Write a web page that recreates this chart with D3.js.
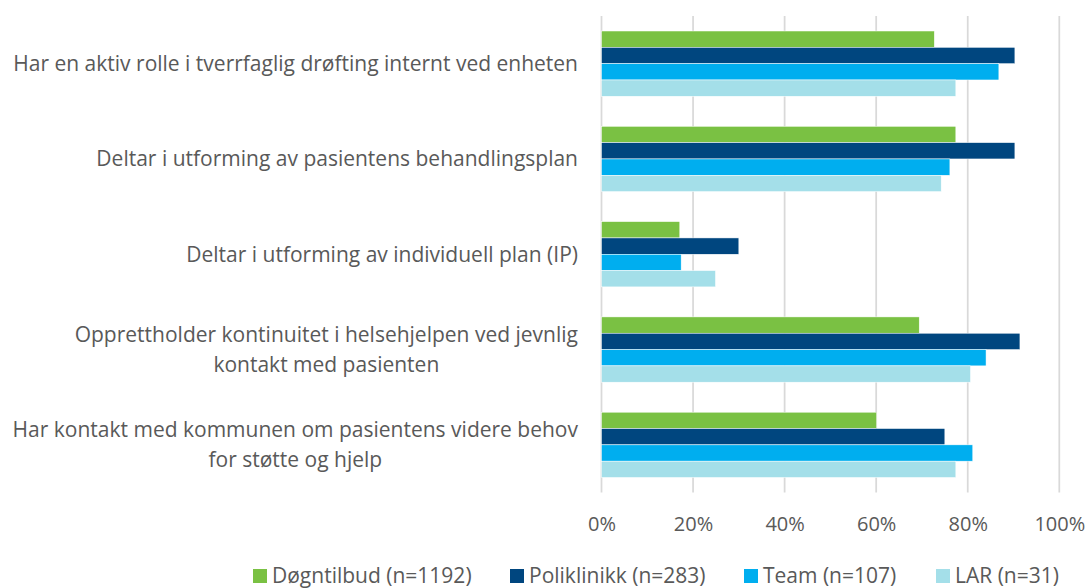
<!DOCTYPE html>
<html>
<head>
<meta charset="utf-8">
<script src="https://cdn.jsdelivr.net/npm/d3@7"></script>
<style>
  body { margin: 0; background: #fff; }
  svg text { font-family: "Open Sans", sans-serif; fill: #595959; }
</style>
</head>
<body>
<svg id="chart" width="1087" height="588"></svg>
<script>
// categories (each label split into its lines)
var categories = [
    ["Har en aktiv rolle i tverrfaglig drøfting internt ved enheten"],
    ["Deltar i utforming av pasientens behandlingsplan"],
    ["Deltar i utforming av individuell plan (IP)"],
    ["Opprettholder kontinuitet i helsehjelpen ved jevnlig", "kontakt med pasienten"],
    ["Har kontakt med kommunen om pasientens videre behov", "for støtte og hjelp"]
];
var seriesNames = ["Døgntilbud (n=1192)", "Poliklinikk (n=283)", "Team (n=107)", "LAR (n=31)"];
var seriesColors = ["#7ac143", "#00467f", "#00aeef", "#a4dfe9"];

// values in percent, one array per series
var dogntilbud = [72.7, 77.4, 17.1, 69.4, 60.1];
var poliklinikk = [90.3, 90.3, 30.0, 91.4, 75.0];
var team = [86.8, 76.1, 17.4, 84.0, 81.1];
var lar = [77.4, 74.2, 24.9, 80.6, 77.4];
var xTicks = [0, 20, 40, 60, 80, 100];

var series = [dogntilbud, poliklinikk, team, lar];

var svg = d3.select("#chart");
var plotLeft = 601.5, plotRight = 1059.3, plotTop = 16, plotBottom = 492.5;

var x = d3.scaleLinear().domain([0, 100]).range([plotLeft, plotRight]);
var y = d3.scaleBand()
    .domain(d3.range(categories.length))
    .range([plotTop, plotBottom])
    .paddingInner(0.315)
    .paddingOuter(0.1575);
var ySub = d3.scaleBand()
    .domain(d3.range(series.length))
    .range([0, y.bandwidth()]);

// gridlines
svg.append("g")
    .selectAll("line")
    .data(xTicks)
    .enter().append("line")
    .attr("x1", function (d) { return x(d); })
    .attr("x2", function (d) { return x(d); })
    .attr("y1", plotTop)
    .attr("y2", plotBottom)
    .attr("stroke", "#d9d9d9")
    .attr("stroke-width", 1.75);

// x axis labels
var xAxis = d3.axisBottom(x)
    .tickValues(xTicks)
    .tickFormat(function (d) { return d + "%"; })
    .tickSize(0)
    .tickPadding(0);
var gx = svg.append("g")
    .attr("transform", "translate(0," + (plotBottom + 24) + ")")
    .call(xAxis);
gx.select(".domain").remove();
gx.attr("font-family", null).attr("font-size", null);
gx.selectAll("text")
    .style("font-size", "20px")
    .attr("fill", "#595959");

// bars
var groups = svg.append("g")
    .selectAll("g")
    .data(categories)
    .enter().append("g")
    .attr("transform", function (d, i) { return "translate(0," + y(i) + ")"; });

groups.selectAll("rect")
    .data(function (d, i) {
        return series.map(function (s, j) { return { s: j, v: s[i] }; });
    })
    .enter().append("rect")
    .attr("x", x(0))
    .attr("y", function (d) { return ySub(d.s); })
    .attr("width", function (d) { return x(d.v) - x(0); })
    .attr("height", ySub.bandwidth())
    .attr("fill", function (d) { return seriesColors[d.s]; })
    .attr("stroke", "#ffffff")
    .attr("stroke-width", 0.5);

// category labels
var labelRight = 578;
var lineH = 29.5;
groups.each(function (lines) {
    var g = d3.select(this);
    var cy = y.bandwidth() / 2;
    var t = g.append("text")
        .style("font-size", "21px")
        .attr("text-anchor", "middle");
    lines.forEach(function (line, k) {
        t.append("tspan")
            .attr("x", 0)
            .attr("y", cy + (k - (lines.length - 1) / 2) * lineH)
            .attr("dy", "0.35em")
            .text(line);
    });
    var w = 0;
    t.selectAll("tspan").each(function () {
        w = Math.max(w, this.getComputedTextLength());
    });
    t.selectAll("tspan").attr("x", labelRight - w / 2);
});

// legend
var legendX = [253, 510, 744, 936];
var legend = svg.append("g")
    .selectAll("g")
    .data(seriesNames)
    .enter().append("g")
    .attr("transform", function (d, i) { return "translate(" + legendX[i] + ",569)"; });
legend.append("rect")
    .attr("width", 14)
    .attr("height", 14)
    .attr("fill", function (d, i) { return seriesColors[i]; });
legend.append("text")
    .attr("x", 19)
    .attr("y", 13.5)
    .style("font-size", "21px")
    .text(function (d) { return d; });
</script>
</body>
</html>
